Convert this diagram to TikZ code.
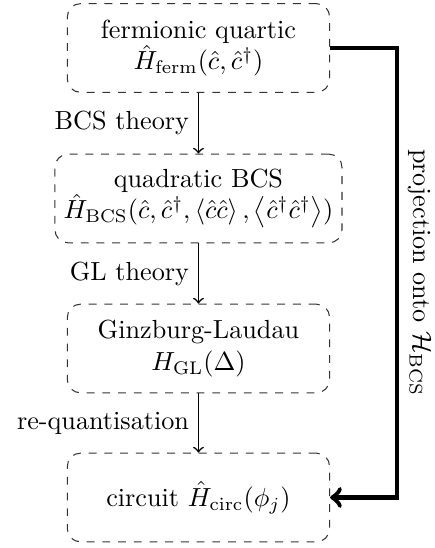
\documentclass[tikz,border=0pt]{standalone}
\begin{document}
\begin{tikzpicture}[
  stage/.style={draw=black!80, dashed, rounded corners=5pt, align=center,
    minimum width=3.52cm, minimum height=1.19cm, inner sep=3.33pt},
  flow/.style={->, semithick},
  proj/.style={->, line width=1.8pt}
]
\useasboundingbox (0,0) rectangle (5.839,-7.356);
\node[stage] (ferm) at (2.664,-0.644) {fermionic quartic\\ $\hat{H}_{\mathrm{ferm}}(\hat{c},\hat{c}^\dagger)$};
\node[stage] (bcs) at (2.664,-2.664) {quadratic BCS\\ $\hat{H}_{\mathrm{BCS}}(\hat{c},\hat{c}^\dagger,\left\langle\hat{c}\hat{c}\right\rangle,\left\langle\hat{c}^\dagger\hat{c}^\dagger\right\rangle)$};
\node[stage] (gl) at (2.664,-4.678) {Ginzburg-Laudau\\ $H_{\mathrm{GL}}(\Delta)$};
\node[stage] (circ) at (2.664,-6.678) {circuit $\hat{H}_{\mathrm{circ}}(\phi_j)$};
\coordinate (rt) at (5.329,-0.644);
\coordinate (rb) at (5.329,-6.678);
\draw[flow] (ferm) -- node[left] {BCS theory} (bcs);
\draw[flow] (bcs) -- node[left] {GL theory} (gl);
\draw[flow] (gl) -- node[left] {re-quantisation} (circ);
\draw[proj] (ferm.east) -- (rt) -- node[midway, anchor=south, rotate=-90] {projection onto $\mathcal{H}_{\mathrm{BCS}}$} (rb) -- (circ.east);
\end{tikzpicture}
\end{document}
